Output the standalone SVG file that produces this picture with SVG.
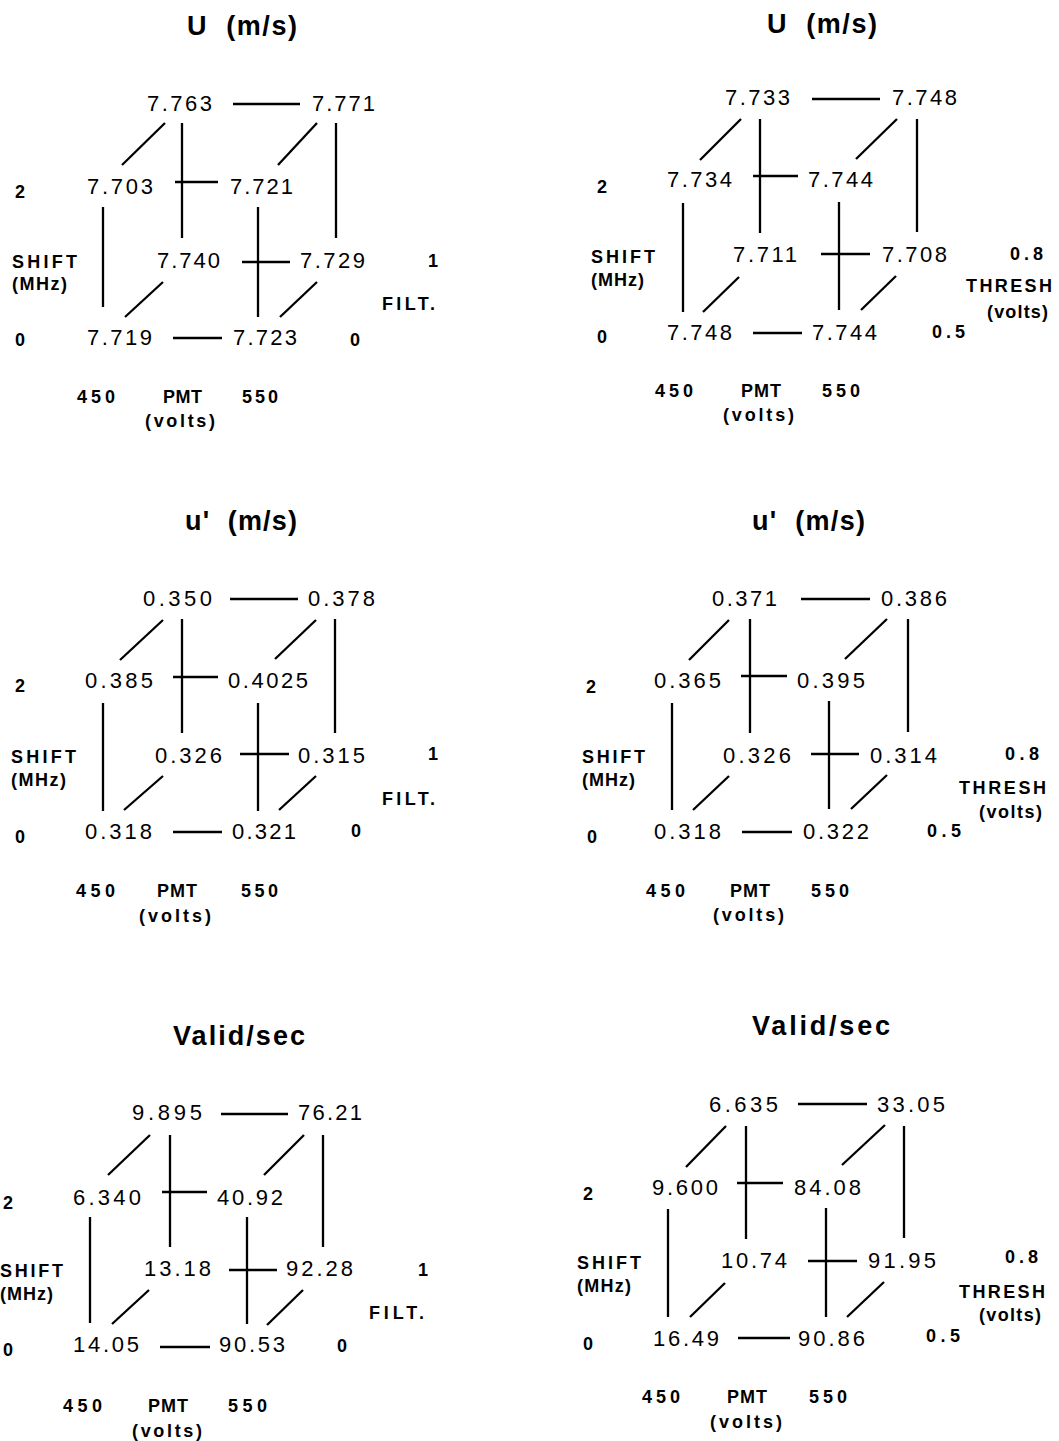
<svg xmlns="http://www.w3.org/2000/svg" width="1059" height="1441" viewBox="0 0 1059 1441">
<style>
text{font-family:"Liberation Sans",Arial,Helvetica,sans-serif;fill:#000}
.t{font-size:27px;font-weight:bold}
.n{font-size:22px}
.b{font-size:18px;font-weight:bold}
.c line{stroke:#000;stroke-width:2.3;stroke-linecap:butt}
</style>
<rect x="0" y="0" width="1059" height="1441" fill="#fff"/>

<!-- Panel 1 -->
<g id="p1">
<text class="t" x="187" y="35" textLength="110" lengthAdjust="spacing" xml:space="preserve">U  (m/s)</text>
<g id="p1-n1"><text class="n" x="147" y="111" textLength="65">7.763</text></g>
<g id="p1-n2"><text class="n" x="312" y="111" textLength="63">7.771</text></g>
<g id="p1-n3"><text class="n" x="87" y="194" textLength="66">7.703</text></g>
<g id="p1-n4"><text class="n" x="230" y="194" textLength="63">7.721</text></g>
<g id="p1-n5"><text class="n" x="157" y="268" textLength="63">7.740</text></g>
<g id="p1-n6"><text class="n" x="300" y="268" textLength="65">7.729</text></g>
<g id="p1-n7"><text class="n" x="87" y="345" textLength="65">7.719</text></g>
<g id="p1-n8"><text class="n" x="233" y="345" textLength="64">7.723</text></g>
<g class="c" id="p1-connectors">
<line x1="233" y1="104" x2="300" y2="104"/>
<line x1="175" y1="182" x2="218" y2="182"/>
<line x1="242" y1="262" x2="290" y2="262"/>
<line x1="173" y1="338" x2="222" y2="338"/>
<line x1="182" y1="123" x2="182" y2="238"/>
<line x1="336" y1="123" x2="336" y2="238"/>
<line x1="103" y1="207" x2="103" y2="307"/>
<line x1="258" y1="207" x2="258" y2="317"/>
<line x1="165" y1="123" x2="122" y2="165"/>
<line x1="317" y1="123" x2="278" y2="165"/>
<line x1="163" y1="282" x2="125" y2="317"/>
<line x1="317" y1="282" x2="280" y2="317"/>
</g>
<g id="p1-labels">
<text class="b" x="15" y="198">2</text>
<text class="b" x="12" y="268" textLength="65">SHIFT</text>
<text class="b" x="12" y="290" textLength="55">(MHz)</text>
<text class="b" x="15" y="346">0</text>
<text class="b" x="428" y="267">1</text>
<text class="b" x="382" y="310" textLength="53">FILT.</text>
<text class="b" x="350" y="346">0</text>
<text class="b" x="77" y="403" textLength="38">450</text>
<text class="b" x="163" y="403" textLength="39">PMT</text>
<text class="b" x="242" y="403" textLength="36">550</text>
<text class="b" x="145" y="427" textLength="70">(volts)</text>
</g>
</g>

<!-- Panel 2 -->
<g id="p2">
<text class="t" x="767" y="33" textLength="110" lengthAdjust="spacing" xml:space="preserve">U  (m/s)</text>
<g id="p2-n1"><text class="n" x="725" y="105" textLength="65">7.733</text></g>
<g id="p2-n2"><text class="n" x="892" y="105" textLength="65">7.748</text></g>
<g id="p2-n3"><text class="n" x="667" y="187" textLength="65">7.734</text></g>
<g id="p2-n4"><text class="n" x="808" y="187" textLength="65">7.744</text></g>
<g id="p2-n5"><text class="n" x="733" y="262" textLength="64">7.711</text></g>
<g id="p2-n6"><text class="n" x="882" y="262" textLength="65">7.708</text></g>
<g id="p2-n7"><text class="n" x="667" y="340" textLength="65">7.748</text></g>
<g id="p2-n8"><text class="n" x="812" y="340" textLength="65">7.744</text></g>
<g class="c" id="p2-connectors">
<line x1="812" y1="99" x2="880" y2="99"/>
<line x1="753" y1="176" x2="798" y2="176"/>
<line x1="821" y1="254" x2="870" y2="254"/>
<line x1="753" y1="333" x2="802" y2="333"/>
<line x1="760" y1="119" x2="760" y2="233"/>
<line x1="917" y1="119" x2="917" y2="232"/>
<line x1="683" y1="203" x2="683" y2="312"/>
<line x1="839" y1="202" x2="839" y2="310"/>
<line x1="741" y1="119" x2="700" y2="160"/>
<line x1="897" y1="119" x2="856" y2="159"/>
<line x1="739" y1="277" x2="703" y2="312"/>
<line x1="896" y1="276" x2="861" y2="310"/>
</g>
<g id="p2-labels">
<text class="b" x="597" y="193">2</text>
<text class="b" x="591" y="263" textLength="64">SHIFT</text>
<text class="b" x="591" y="286" textLength="53">(MHz)</text>
<text class="b" x="597" y="343">0</text>
<text class="b" x="1010" y="260" textLength="33">0.8</text>
<text class="b" x="966" y="292" textLength="86">THRESH</text>
<text class="b" x="987" y="318" textLength="61">(volts)</text>
<text class="b" x="932" y="338" textLength="33">0.5</text>
<text class="b" x="655" y="397" textLength="38">450</text>
<text class="b" x="741" y="397" textLength="40">PMT</text>
<text class="b" x="822" y="397" textLength="38">550</text>
<text class="b" x="723" y="421" textLength="71">(volts)</text>
</g>
</g>

<!-- Panel 3 -->
<g id="p3">
<text class="t" x="185" y="530" textLength="112" lengthAdjust="spacing" xml:space="preserve">u'  (m/s)</text>
<g id="p3-n1"><text class="n" x="143" y="606" textLength="69">0.350</text></g>
<g id="p3-n2"><text class="n" x="308" y="606" textLength="67">0.378</text></g>
<g id="p3-n3"><text class="n" x="85" y="688" textLength="68">0.385</text></g>
<g id="p3-n4"><text class="n" x="228" y="688" textLength="80">0.4025</text></g>
<g id="p3-n5"><text class="n" x="155" y="763" textLength="67">0.326</text></g>
<g id="p3-n6"><text class="n" x="298" y="763" textLength="67">0.315</text></g>
<g id="p3-n7"><text class="n" x="85" y="839" textLength="67">0.318</text></g>
<g id="p3-n8"><text class="n" x="232" y="839" textLength="64">0.321</text></g>
<g class="c" id="p3-connectors">
<line x1="230" y1="599" x2="298" y2="599"/>
<line x1="173" y1="677" x2="218" y2="677"/>
<line x1="240" y1="754" x2="289" y2="754"/>
<line x1="173" y1="832" x2="222" y2="832"/>
<line x1="182" y1="619" x2="182" y2="733"/>
<line x1="335" y1="619" x2="335" y2="733"/>
<line x1="103" y1="703" x2="103" y2="811"/>
<line x1="258" y1="703" x2="258" y2="811"/>
<line x1="163" y1="620" x2="120" y2="660"/>
<line x1="316" y1="620" x2="275" y2="659"/>
<line x1="163" y1="776" x2="124" y2="810"/>
<line x1="316" y1="776" x2="279" y2="810"/>
</g>
<g id="p3-labels">
<text class="b" x="15" y="692">2</text>
<text class="b" x="11" y="763" textLength="65">SHIFT</text>
<text class="b" x="11" y="786" textLength="55">(MHz)</text>
<text class="b" x="15" y="843">0</text>
<text class="b" x="428" y="760">1</text>
<text class="b" x="382" y="805" textLength="53">FILT.</text>
<text class="b" x="351" y="837">0</text>
<text class="b" x="76" y="897" textLength="39">450</text>
<text class="b" x="157" y="897" textLength="40">PMT</text>
<text class="b" x="241" y="897" textLength="37">550</text>
<text class="b" x="139" y="922" textLength="72">(volts)</text>
</g>
</g>

<!-- Panel 4 -->
<g id="p4">
<text class="t" x="752" y="530" textLength="113" lengthAdjust="spacing" xml:space="preserve">u'  (m/s)</text>
<g id="p4-n1"><text class="n" x="712" y="606" textLength="65">0.371</text></g>
<g id="p4-n2"><text class="n" x="881" y="606" textLength="66">0.386</text></g>
<g id="p4-n3"><text class="n" x="654" y="688" textLength="67">0.365</text></g>
<g id="p4-n4"><text class="n" x="797" y="688" textLength="68">0.395</text></g>
<g id="p4-n5"><text class="n" x="723" y="763" textLength="68">0.326</text></g>
<g id="p4-n6"><text class="n" x="870" y="763" textLength="67">0.314</text></g>
<g id="p4-n7"><text class="n" x="654" y="839" textLength="67">0.318</text></g>
<g id="p4-n8"><text class="n" x="803" y="839" textLength="66">0.322</text></g>
<g class="c" id="p4-connectors">
<line x1="801" y1="599" x2="870" y2="599"/>
<line x1="741" y1="676" x2="787" y2="676"/>
<line x1="811" y1="754" x2="859" y2="754"/>
<line x1="742" y1="832" x2="792" y2="832"/>
<line x1="750" y1="619" x2="750" y2="733"/>
<line x1="908" y1="619" x2="908" y2="732"/>
<line x1="672" y1="703" x2="672" y2="810"/>
<line x1="829" y1="701" x2="829" y2="809"/>
<line x1="729" y1="620" x2="689" y2="660"/>
<line x1="887" y1="619" x2="845" y2="659"/>
<line x1="729" y1="776" x2="693" y2="810"/>
<line x1="887" y1="775" x2="851" y2="809"/>
</g>
<g id="p4-labels">
<text class="b" x="586" y="693">2</text>
<text class="b" x="582" y="763" textLength="63">SHIFT</text>
<text class="b" x="582" y="786" textLength="53">(MHz)</text>
<text class="b" x="587" y="843">0</text>
<text class="b" x="1005" y="760" textLength="34">0.8</text>
<text class="b" x="959" y="794" textLength="87">THRESH</text>
<text class="b" x="979" y="818" textLength="63">(volts)</text>
<text class="b" x="927" y="837" textLength="34">0.5</text>
<text class="b" x="646" y="897" textLength="39">450</text>
<text class="b" x="730" y="897" textLength="40">PMT</text>
<text class="b" x="811" y="897" textLength="38">550</text>
<text class="b" x="713" y="921" textLength="71">(volts)</text>
</g>
</g>

<!-- Panel 5 -->
<g id="p5">
<text class="t" x="173" y="1045" textLength="132" lengthAdjust="spacing">Valid/sec</text>
<g id="p5-n1"><text class="n" x="132" y="1120" textLength="70">9.895</text></g>
<g id="p5-n2"><text class="n" x="298" y="1120" textLength="64">76.21</text></g>
<g id="p5-n3"><text class="n" x="73" y="1205" textLength="68">6.340</text></g>
<g id="p5-n4"><text class="n" x="217" y="1205" textLength="66">40.92</text></g>
<g id="p5-n5"><text class="n" x="144" y="1276" textLength="67">13.18</text></g>
<g id="p5-n6"><text class="n" x="286" y="1276" textLength="67">92.28</text></g>
<g id="p5-n7"><text class="n" x="73" y="1352" textLength="66">14.05</text></g>
<g id="p5-n8"><text class="n" x="219" y="1352" textLength="66">90.53</text></g>
<g class="c" id="p5-connectors">
<line x1="221" y1="1114" x2="288" y2="1114"/>
<line x1="162" y1="1192" x2="207" y2="1192"/>
<line x1="229" y1="1270" x2="277" y2="1270"/>
<line x1="160" y1="1347" x2="210" y2="1347"/>
<line x1="170" y1="1135" x2="170" y2="1247"/>
<line x1="323" y1="1135" x2="323" y2="1247"/>
<line x1="90" y1="1217" x2="90" y2="1323"/>
<line x1="247" y1="1217" x2="247" y2="1324"/>
<line x1="150" y1="1135" x2="108" y2="1175"/>
<line x1="304" y1="1135" x2="264" y2="1175"/>
<line x1="149" y1="1290" x2="112" y2="1324"/>
<line x1="303" y1="1290" x2="267" y2="1325"/>
</g>
<g id="p5-labels">
<text class="b" x="3" y="1209">2</text>
<text class="b" x="0" y="1277" textLength="63">SHIFT</text>
<text class="b" x="0" y="1300" textLength="53">(MHz)</text>
<text class="b" x="3" y="1356">0</text>
<text class="b" x="418" y="1276">1</text>
<text class="b" x="369" y="1319" textLength="55">FILT.</text>
<text class="b" x="337" y="1352">0</text>
<text class="b" x="63" y="1412" textLength="39">450</text>
<text class="b" x="148" y="1412" textLength="40">PMT</text>
<text class="b" x="228" y="1412" textLength="39">550</text>
<text class="b" x="132" y="1437" textLength="70">(volts)</text>
</g>
</g>

<!-- Panel 6 -->
<g id="p6">
<text class="t" x="752" y="1035" textLength="138" lengthAdjust="spacing">Valid/sec</text>
<g id="p6-n1"><text class="n" x="709" y="1112" textLength="69">6.635</text></g>
<g id="p6-n2"><text class="n" x="877" y="1112" textLength="68">33.05</text></g>
<g id="p6-n3"><text class="n" x="652" y="1195" textLength="66">9.600</text></g>
<g id="p6-n4"><text class="n" x="794" y="1195" textLength="67">84.08</text></g>
<g id="p6-n5"><text class="n" x="721" y="1268" textLength="66">10.74</text></g>
<g id="p6-n6"><text class="n" x="868" y="1268" textLength="68">91.95</text></g>
<g id="p6-n7"><text class="n" x="653" y="1346" textLength="66">16.49</text></g>
<g id="p6-n8"><text class="n" x="798" y="1346" textLength="67">90.86</text></g>
<g class="c" id="p6-connectors">
<line x1="798" y1="1104" x2="867" y2="1104"/>
<line x1="737" y1="1183" x2="783" y2="1183"/>
<line x1="808" y1="1261" x2="857" y2="1261"/>
<line x1="738" y1="1338" x2="790" y2="1338"/>
<line x1="746" y1="1126" x2="746" y2="1239"/>
<line x1="904" y1="1126" x2="904" y2="1238"/>
<line x1="668" y1="1209" x2="668" y2="1317"/>
<line x1="826" y1="1208" x2="826" y2="1317"/>
<line x1="726" y1="1126" x2="686" y2="1167"/>
<line x1="885" y1="1125" x2="842" y2="1165"/>
<line x1="725" y1="1283" x2="690" y2="1317"/>
<line x1="884" y1="1282" x2="847" y2="1317"/>
</g>
<g id="p6-labels">
<text class="b" x="583" y="1200">2</text>
<text class="b" x="577" y="1269" textLength="64">SHIFT</text>
<text class="b" x="577" y="1292" textLength="54">(MHz)</text>
<text class="b" x="583" y="1350">0</text>
<text class="b" x="1005" y="1263" textLength="33">0.8</text>
<text class="b" x="959" y="1298" textLength="86">THRESH</text>
<text class="b" x="979" y="1321" textLength="62">(volts)</text>
<text class="b" x="926" y="1342" textLength="34">0.5</text>
<text class="b" x="642" y="1403" textLength="38">450</text>
<text class="b" x="727" y="1403" textLength="40">PMT</text>
<text class="b" x="809" y="1403" textLength="38">550</text>
<text class="b" x="710" y="1428" textLength="72">(volts)</text>
</g>
</g>
</svg>
